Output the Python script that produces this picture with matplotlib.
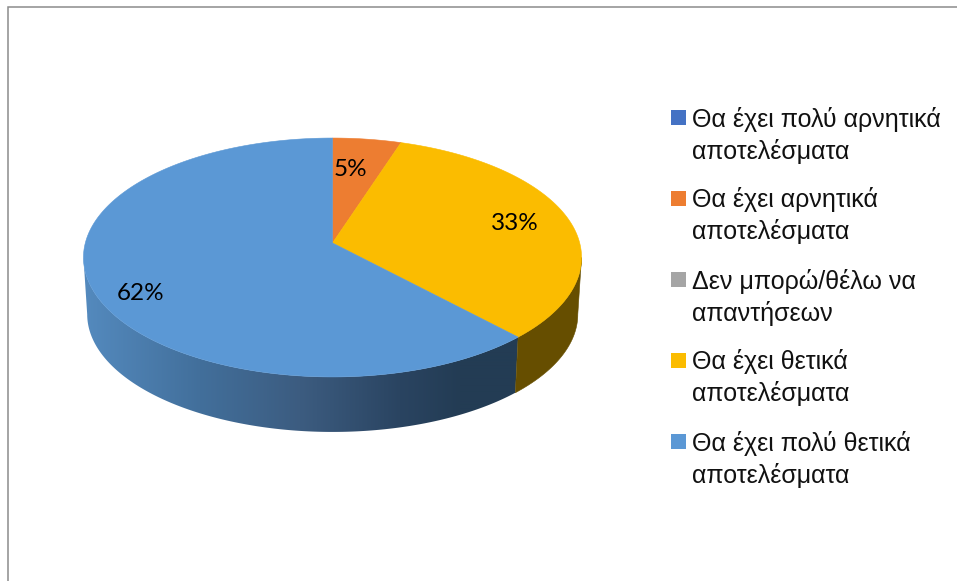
import numpy as np
import matplotlib
matplotlib.use("Agg")
import matplotlib.pyplot as plt
from matplotlib.patches import Polygon, Rectangle

legend_labels = [
    "Θα έχει πολύ αρνητικά\nαποτελέσματα",
    "Θα έχει αρνητικά\nαποτελέσματα",
    "Δεν μπορώ/θέλω να\nαπαντήσεων",
    "Θα έχει θετικά\nαποτελέσματα",
    "Θα έχει πολύ θετικά\nαποτελέσματα",
]
values = [0, 5, 0, 33, 62]
pct_labels = ["", "5%", "", "33%", "62%"]
colors = ["#4472C4", "#ED7D31", "#A5A5A5", "#FBBC00", "#5B98D5"]
wall_colors = [None, "#8E4B1D", None, "#664E00", None]
label_pos = [None, (350, 170), None, (515, 223), (141, 293)]

# perspective of the pie disc, in pixels
CX, CY = 332.5, 243
A, B, K = 247.2, 117.7, 0.1213
DEPTH, SHRINK = 57, 0.985

# side wall shading of the blue slice, left to right
wall_x = [84, 200, 300, 400, 460, 520]
wall_r = [84, 66, 60, 42, 35, 35]
wall_g = [138, 111, 92, 68, 60, 60]
wall_b = [190, 155, 128, 97, 84, 84]


def project(theta, bottom=False):
    """theta in degrees, clockwise from 12 o'clock"""
    t = np.radians(theta)
    d = 1 + K * np.cos(t)
    x = A * np.sin(t) / d
    y = B * np.cos(t) / d
    if bottom:
        return CX + SHRINK * x, CY - SHRINK * y + DEPTH
    return CX + x, CY - y


fig = plt.figure(figsize=(9.57, 5.81), dpi=100)
ax = fig.add_axes([0, 0, 1, 1])
ax.axis("off")

# chart border, only top and left show in the crop
ax.plot([957, 7.5, 7.5], [6.5, 6.5, 581], color="#8C8C8C", lw=1.1, solid_joinstyle="miter")

edges = np.cumsum([0] + values) * 3.6

# the wall is seen between the two tangent points of the disc
side = np.degrees(np.arccos(-K))

# side wall first, the disc goes over it
for start, stop, col, wall in zip(edges[:-1], edges[1:], colors, wall_colors):
    lo, hi = max(start, side), min(stop, 360 - side)
    if lo >= hi:
        continue
    th = np.linspace(lo, hi, 200)
    x1, y1 = project(th)
    x2, y2 = project(th[::-1], bottom=True)
    poly = np.c_[np.r_[x1, x2], np.r_[y1, y2]]
    if wall is not None:
        ax.fill(poly[:, 0], poly[:, 1], color=wall, lw=0.4)
    else:
        xs = np.arange(80, 525)
        grad = np.dstack([np.interp(xs, wall_x, wall_r), np.interp(xs, wall_x, wall_g), np.interp(xs, wall_x, wall_b)]) / 255
        im = ax.imshow(grad, extent=(80, 525, 450, 240), aspect="auto", interpolation="bilinear")
        im.set_clip_path(Polygon(poly, transform=ax.transData))

# disc
for start, stop, col in zip(edges[:-1], edges[1:], colors):
    if stop == start:
        continue
    th = np.linspace(start, stop, 200)
    x, y = project(th)
    ax.fill(np.r_[CX, x], np.r_[CY, y], color=col, lw=0.4)

for txt, pos in zip(pct_labels, label_pos):
    if txt:
        ax.text(pos[0], pos[1], txt, fontsize=17.5, family=["Lato", "DejaVu Sans"], ha="center", va="center", color="black")

for i, (lab, col) in enumerate(zip(legend_labels, colors)):
    y0 = 116.5 + 81 * i
    ax.add_patch(Rectangle((671, y0 - 7), 15, 15, color=col, lw=0))
    l1, l2 = lab.split("\n")
    ax.text(692, y0, l1, fontsize=18, family=["Liberation Sans", "DejaVu Sans"], va="center_baseline", color="#111111")
    ax.text(692, y0 + 32, l2, fontsize=18, family=["Liberation Sans", "DejaVu Sans"], va="center_baseline", color="#111111")

ax.set_xlim(0, 957)
ax.set_ylim(581, 0)
fig.savefig("out.png", dpi=100)
